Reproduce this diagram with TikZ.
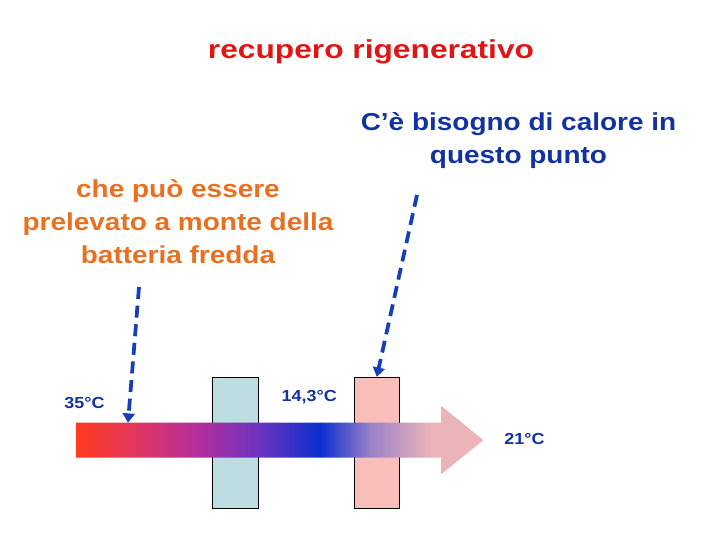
\documentclass[tikz,border=0pt]{standalone}
\usepackage{fontspec}
\setmainfont{Liberation Sans}
\usepackage{tikz}
\usetikzlibrary{arrows.meta}

\definecolor{titlered}{RGB}{224,22,22}
\definecolor{noteblue}{RGB}{18,50,162}
\definecolor{noteorange}{RGB}{232,112,32}
\definecolor{dashblue}{RGB}{22,62,182}
\definecolor{coolfill}{RGB}{188,222,226}
\definecolor{hotfill}{RGB}{250,190,186}
\definecolor{flowA}{RGB}{255,58,30}
\definecolor{flowB}{RGB}{232,56,88}
\definecolor{flowC}{RGB}{184,46,152}
\definecolor{flowD}{RGB}{106,52,192}
\definecolor{flowE}{RGB}{10,48,208}
\definecolor{flowF}{RGB}{154,128,200}
\definecolor{flowG}{RGB}{234,180,184}

\pgfdeclarehorizontalshading{airflow}{100bp}{color(0bp)=(flowA); color(25bp)=(flowA);
	color(31.3bp)=(flowB); color(39.4bp)=(flowC); color(47.6bp)=(flowD);
	color(55bp)=(flowE); color(61.1bp)=(flowF); color(68.5bp)=(flowG);
	color(75bp)=(flowG); color(100bp)=(flowG)}

\tikzstyle{regen_style}=[
	x=0.75pt, y=-0.75pt,
	heading/.style={inner sep=0pt,anchor=base,text=titlered,font=\bfseries\fontsize{19.5}{22}\selectfont,xscale=1.22},
	note/.style={inner sep=0pt,anchor=base,align=center,font=\bfseries\fontsize{18.4}{24.75}\selectfont,xscale=1.14},
	temp/.style={inner sep=0pt,anchor=base,text=noteblue,font=\bfseries\fontsize{12}{14}\selectfont,xscale=1.12},
	coil/.style={rectangle,draw=black,line width=0.75pt,inner sep=0pt,minimum height=98.25pt},
	need/.style={-{Triangle[width=9pt,length=7pt]},draw=dashblue,line width=2.8pt,dash pattern=on 9pt off 5pt}
]

\begin{document}
\begin{tikzpicture}[regen_style]
	\useasboundingbox (0,0) rectangle (720,540);
	
	%title
	\node[heading] (title) at (371,58.3) {recupero rigenerativo};
	
	%notes (base = last line)
	\node[note,text=noteblue] (heat) at (518.5,163.3) {C’è bisogno di calore in\\questo punto};
	\node[note,text=noteorange] (take) at (178,263.3) {che può essere\\prelevato a monte della\\batteria fredda};
	
	%coils
	\node[coil,fill=coolfill,minimum width=34.5pt] (cool) at (235.3,442.8) {};
	\node[coil,fill=hotfill,minimum width=33.75pt] (hot) at (376.8,442.8) {};
	
	%air flow
	\path[shading=airflow] (76,422.7) -- (441,422.7) -- (441,405.7) -- (483.3,440.2)
		-- (441,474.3) -- (441,457.7) -- (76,457.7) -- cycle;
	\coordinate (mix) at (128,422.7);
	
	%temperatures
	\node[temp] (t35) at (84.5,408.5) {35°C};
	\node[temp] (t14) at (309.2,401) {14,3°C};
	\node[temp] (t21) at (524.5,444.5) {21°C};
	
	\coordinate (takeA) at (139,287);
	\coordinate (heatA) at (417,195);
	
	\path (takeA) edge [need] (mix)
	(heatA) edge [need] (hot.north);
	
\end{tikzpicture}
\end{document}
